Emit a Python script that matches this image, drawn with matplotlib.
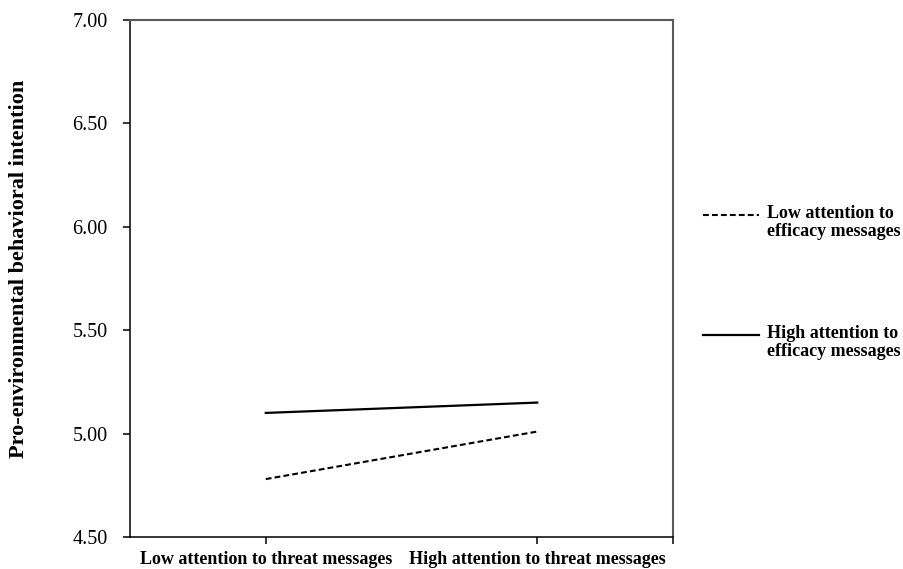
import matplotlib
matplotlib.use("Agg")
import matplotlib.pyplot as plt
from matplotlib.lines import Line2D

categories = ["Low attention to threat messages", "High attention to threat messages"]
low_efficacy = [4.78, 5.01]
high_efficacy = [5.10, 5.15]
series_labels = ["Low attention to\nefficacy messages", "High attention to\nefficacy messages"]
yticks = [4.50, 5.00, 5.50, 6.00, 6.50, 7.00]

plt.rcParams['font.family'] = ['Liberation Serif', 'DejaVu Serif']

W, H = 904, 569
fig = plt.figure(figsize=(W / 100, H / 100), dpi=100)
ax = fig.add_axes([130 / W, 1 - 537 / H, (673 - 130) / W, (537 - 20) / H])

DASH = (0, (2.8, 1.5))
xpos = [0.5, 1.5]
ax.plot(xpos, low_efficacy, color='black', lw=1.5, ls=DASH)
ax.plot(xpos, high_efficacy, color='black', lw=1.6)

ax.set_xlim(0, 2)
ax.set_ylim(4.5, 7.0)
ax.set_yticks(yticks)
ax.set_yticklabels([f"{v:.2f}" for v in yticks], fontsize=14.5)
ax.set_xticks([0.5, 1.5, 2.0])
ax.set_xticklabels(categories + [""], fontsize=13, fontweight='bold')
ax.tick_params(axis='both', direction='out', length=5, width=1.1, color='black')
ax.tick_params(axis='x', pad=5)
ax.tick_params(axis='y', pad=11)

for s in ('left', 'bottom'):
    ax.spines[s].set_color('black')
    ax.spines[s].set_linewidth(1.1)
for s in ('top', 'right'):
    ax.spines[s].set_color('#5a5a5a')
    ax.spines[s].set_linewidth(1.5)

fig.text(19 / W, 1 - 268.5 / H, "Pro-environmental behavioral intention", rotation=90,
         ha='center', va='center', fontsize=16, fontweight='bold')

# legend (handle aligned with first text line, as in the reference)
styles = [dict(ls=DASH, lw=1.5), dict(ls='-', lw=1.6)]
key_y = [215, 335]
for lab, st, ky in zip(series_labels, styles, key_y):
    fig.add_artist(Line2D([703 / W, 759 / W], [1 - ky / H, 1 - ky / H], color='black',
                          transform=fig.transFigure, **st))
    fig.text(767 / W, 1 - (ky - 10) / H, lab, ha='left', va='top', fontsize=13,
             fontweight='bold', linespacing=1.05)

fig.savefig("out.png", dpi=100)
